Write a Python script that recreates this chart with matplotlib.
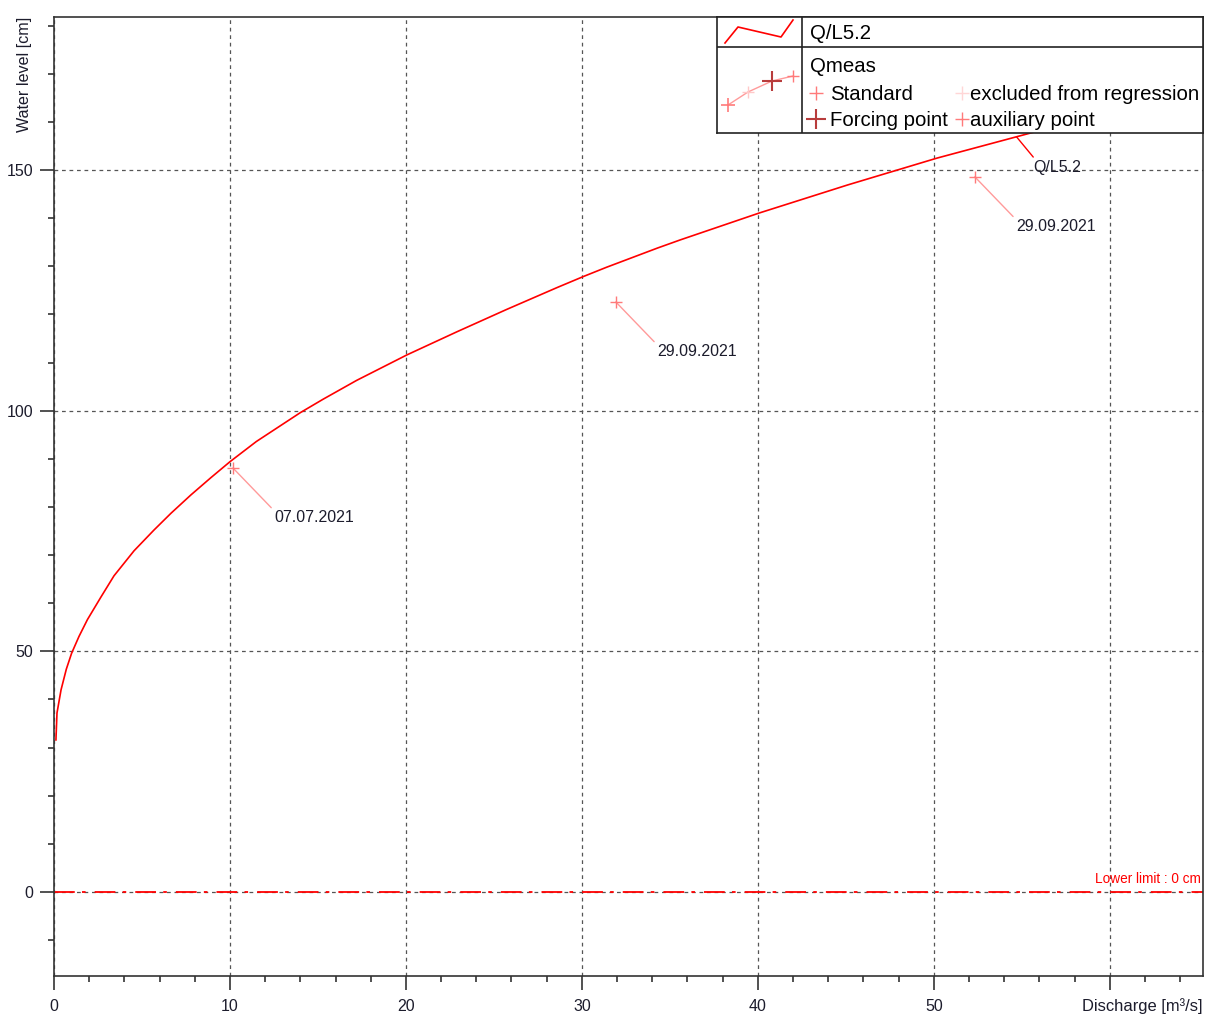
import matplotlib
matplotlib.use("Agg")
import matplotlib.pyplot as plt
from matplotlib.ticker import MultipleLocator, FuncFormatter
import numpy as np

plt.rcParams['font.family'] = ['Liberation Sans', 'DejaVu Sans']

# rating curve Q/L5.2 (discharge m3/s, water level cm)
curve_q = [0.11, 0.17, 0.4, 0.7, 1.0, 1.42, 1.9, 2.67, 3.41, 4.55, 5.68, 6.65, 7.78, 8.92,
           10.0, 11.5, 14.0, 15.3, 17.2, 20.06, 22.9, 25.7, 28.6, 30.1, 31.4,
           34.3, 35.6, 40.1, 45.1, 50.2, 55.3, 62.0]
curve_h = [31.6, 37.2, 42.0, 46.3, 49.6, 53.1, 56.6, 61.3, 65.7, 70.9, 75.2, 78.7, 82.5, 86.1,
           89.4, 93.6, 99.6, 102.4, 106.3, 111.6, 116.4, 121.0, 125.6, 127.9, 129.8,
           133.8, 135.5, 141.1, 146.9, 152.5, 157.5, 164.0]

# measurements
meas_q = [10.17, 31.93, 52.33]
meas_h = [88.1, 122.6, 148.6]
meas_dates = ["07.07.2021", "29.09.2021", "29.09.2021"]

curve_name = "Q/L5.2"
curve_label_q = 54.7
lower_limit = 0

txt_col = "#1c1c2c"
red = "#ff0000"
pink = "#ff7a7a"

fig = plt.figure(figsize=(12.05, 10.14), dpi=100)
ax = fig.add_axes([54/1205, 1 - 976/1014, (1203 - 54)/1205, (976 - 17)/1014])

ax.set_xlim(0, 65.3)
ax.set_ylim(-17.45, 181.8)
ax.xaxis.set_major_locator(MultipleLocator(10))
ax.xaxis.set_minor_locator(MultipleLocator(2))
ax.yaxis.set_major_locator(MultipleLocator(50))
ax.yaxis.set_minor_locator(MultipleLocator(10))
# the 60 label gives way to the axis title
ax.xaxis.set_major_formatter(FuncFormatter(lambda v, p: "" if v > 55 else "%d" % v))
ax.tick_params(which='major', length=10, width=1.2, direction='out',
               labelsize=11.5, labelcolor=txt_col, color='#333333')
ax.tick_params(axis='x', which='major', pad=6.5)
ax.tick_params(axis='y', which='major', pad=5)
ax.tick_params(which='minor', length=4.5, width=1.2, direction='out', color='#333333')
for s in ax.spines.values():
    s.set_color('#333333')
    s.set_linewidth(1.2)
ax.grid(True, which='major', color='#555555', linestyle=(0, (3, 3)), linewidth=0.9)

# lower limit line
ax.axhline(lower_limit, color=red, linestyle=(0, (11.5, 4, 2, 5)), linewidth=1.3, zorder=2)
ax.text(65.2, lower_limit + 1.2, "Lower limit : 0 cm", color=red, fontsize=9.8,
        ha='right', va='bottom')

# rating curve
ax.plot(curve_q, curve_h, color=red, linewidth=1.2, zorder=3)
lab_h = np.interp(curve_label_q, curve_q, curve_h)
ax.annotate(curve_name, xy=(curve_label_q, lab_h), xytext=(12, -22),
            textcoords='offset points', ha='left', va='center', fontsize=11.5,
            color=txt_col,
            arrowprops=dict(arrowstyle='-', color=red, lw=1.0, shrinkA=0, shrinkB=0,
                            relpos=(0.05, 1.0)))

# measurements
ax.plot(meas_q, meas_h, linestyle='none', marker='+', markersize=9,
        markeredgewidth=1.0, color=pink, zorder=4)
for q, h, d in zip(meas_q, meas_h, meas_dates):
    ax.annotate(d, xy=(q, h), xytext=(29.5, -36), textcoords='offset points',
                ha='left', va='center', fontsize=11.5, color=txt_col,
                arrowprops=dict(arrowstyle='-', color='#ff9a9a', lw=1.0,
                                shrinkA=0, shrinkB=0, relpos=(0.0, 1.0)))

# axis titles
ax.text(-29/1149, 1.0, "Water level [cm]", transform=ax.transAxes, rotation=90,
        ha='center', va='top', fontsize=11.6, color=txt_col)
fig.text(1203/1205, 1 - 1006/1014, "Discharge [m³/s]", ha='right', va='center',
         fontsize=11.9, color=txt_col)

# legend table, drawn in its own pixel-like frame
lg = fig.add_axes([717/1205, 1 - 133/1014, (1203 - 717)/1205, (133 - 17)/1014])
lg.set_xlim(0, 486)
lg.set_ylim(116, 0)
lg.set_xticks([])
lg.set_yticks([])
lg.set_facecolor('white')
for s in lg.spines.values():
    s.set_color('#222222')
    s.set_linewidth(1.2)
lg.axvline(85, color='#222222', lw=1.2)
lg.axhline(30, color='#222222', lw=1.2)

fs = 14.7
lg.plot([8, 21, 64, 76], [26, 10, 20, 3], color=red, lw=1.2)
lg.text(93, 16.5, curve_name, fontsize=fs, va='center', ha='left', color='black')

lg.plot([11, 31, 55, 76], [88, 75, 64, 59], color='#ff9a9a', lw=1.0)
lg.plot([11], [88], marker='+', markersize=10, mew=1.2, color=pink, ls='none')
lg.plot([31], [75], marker='+', markersize=9, mew=1.0, color='#ffc8c8', ls='none')
lg.plot([55], [64], marker='+', markersize=15, mew=1.5, color='#b83c3c', ls='none')
lg.plot([76], [59], marker='+', markersize=9, mew=1.0, color=pink, ls='none')

lg.text(93, 49.5, "Qmeas", fontsize=fs, va='center', ha='left', color='black')
lg.plot([99], [76], marker='+', markersize=10, mew=1.0, color=pink, ls='none')
lg.text(113, 77.5, "Standard", fontsize=fs, va='center', ha='left', color='black')
lg.plot([245], [76], marker='+', markersize=10, mew=1.0, color='#ffd6d6', ls='none')
lg.text(253, 77.5, "excluded from regression", fontsize=fs, va='center', ha='left',
        color='black')
lg.plot([99], [102], marker='+', markersize=15, mew=1.5, color='#b83c3c', ls='none')
lg.text(113, 103.5, "Forcing point", fontsize=fs, va='center', ha='left', color='black')
lg.plot([245], [102], marker='+', markersize=10, mew=1.0, color=pink, ls='none')
lg.text(253, 103.5, "auxiliary point", fontsize=fs, va='center', ha='left', color='black')

fig.savefig("out.png", dpi=100)
